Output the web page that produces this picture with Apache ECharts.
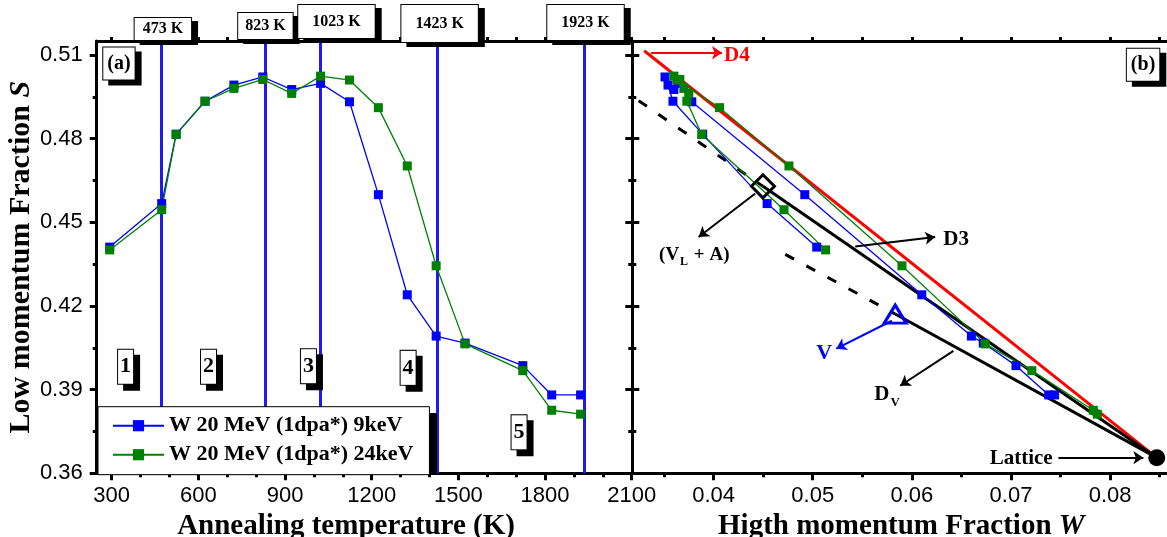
<!DOCTYPE html>
<html><head><meta charset="utf-8">
<script src="https://cdn.jsdelivr.net/npm/echarts@6/dist/echarts.min.js"></script>
<style>html,body{margin:0;padding:0;background:#fff}#c{width:1167px;height:537px}</style>
</head><body><div id="c"></div>
<script>
// ---------- data ----------
const temps  = [293,473,523,623,723,823,923,1023,1123,1223,1323,1423,1523,1723,1823,1923];
const sBlue  = [0.4411,0.4567,0.4816,0.4934,0.4992,0.5021,0.4976,0.4998,0.4932,0.4599,0.4240,0.4092,0.4067,0.3986,0.3881,0.3881];
const sGreen = [0.4401,0.4545,0.4815,0.4934,0.4980,0.5012,0.4962,0.5024,0.5010,0.4911,0.4702,0.4344,0.4064,0.3968,0.3826,0.3812];
const wBlue  = [0.0504,0.0454,0.0389,0.0359,0.0354,0.0351,0.0360,0.0364,0.0378,0.0492,0.0610,0.0660,0.0672,0.0705,0.0738,0.0744];
const wGreen = [0.0513,0.0471,0.0388,0.0373,0.0370,0.0366,0.0375,0.0360,0.0363,0.0406,0.0476,0.0590,0.0674,0.0721,0.0783,0.0787];
const seriesNames = ['W 20 MeV (1dpa*) 9keV','W 20 MeV (1dpa*) 24keV'];

const tempMajor = [300,600,900,1200,1500,1800,2100];
const tempMinor = [400,500,700,800,1000,1100,1300,1400,1600,1700,1900,2000];
const sMajor = [0.36,0.39,0.42,0.45,0.48,0.51];
const sMinor = [0.375,0.405,0.435,0.465,0.495];
const wMajor = [0.04,0.05,0.06,0.07,0.08];
const wMinor = [0.035,0.045,0.055,0.065,0.075,0.085];

const stageLines = [473,832,1022,1426,1935];
const stageNames = ['473 K','823 K','1023 K','1423 K','1923 K'];
const stagePos = [[477,0.5193],[832,0.5204],[1078,0.5220],[1435,0.5213],[1940,0.5216]];
const regionNames = ['1','2','3','4','5'];
const regionPos = [[348,0.3982],[635,0.3982],[981,0.3984],[1326,0.3978],[1710,0.3747]];

const lattice = [0.0847,0.3656];
const vlaPoint = [0.04498,0.4629];
const vPoint = [0.05832,0.4171];
const d4Start = [0.0330,0.5115];
const d3DashStart = [0.03244,0.4936];
const dvDashStart = [0.04723,0.4385];

const arrowD4 = [[0.03369,0.5108],[0.04085,0.5108]];
const arrowVLA = [[0.0442,0.4603],[0.03849,0.4447]];
const arrowD3 = [[0.05428,0.4413],[0.06235,0.4447]];
const arrowV = [[0.05798,0.4147],[0.05237,0.4047]];
const arrowDV = [[0.06419,0.4039],[0.05882,0.3914]];
const arrowLat = [[0.07478,0.3656],[0.08335,0.3656]];

const textD4 = [0.04234,0.5098], textVLA = [0.03805,0.4384], textD3 = [0.06447,0.4437];
const textV = [0.05116,0.4032], textDV = [0.0575,0.3881], textLat = [0.07102,0.3651];
const panelA = [325,0.5069], panelB = [0.08332,0.5065];

// ---------- helpers ----------
const SERIF = 'Liberation Serif', SANS = 'Liberation Sans';
const BLUE = '#0000ff', GREEN = '#008000', LBLUE = '#1c1cf0';
const zip = (a,b) => a.map((v,i)=>[v,b[i]]);

function xAx(grid, pos, min, max, ticks, len, opts) {
  return Object.assign({
    type:'value', gridIndex:grid, position:pos, min:min, max:max,
    splitLine:{show:false},
    axisLine:{show:true, onZero:false, lineStyle:{color:'#000', width:3}},
    axisTick:{show:true, inside:false, length:len, customValues:ticks, lineStyle:{color:'#000', width:3}},
    axisLabel:{show:false}
  }, opts||{});
}
function yAx(grid, pos, ticks, len, opts) {
  return Object.assign({
    type:'value', gridIndex:grid, position:pos, min:0.36, max:0.515,
    splitLine:{show:false},
    axisLine:{show:true, onZero:false, lineStyle:{color:'#000', width:3}},
    axisTick:{show:true, inside:false, length:len, customValues:ticks, lineStyle:{color:'#000', width:3}},
    axisLabel:{show:false}
  }, opts||{});
}
const nameStyle = (size, pad) => ({
  fontFamily:SERIF, fontWeight:'bold', fontSize:size, color:'#000', padding:pad,
  rich:{i:{fontFamily:SERIF, fontWeight:'bold', fontStyle:'italic', fontSize:size, color:'#000'}}
});
const tickLabel = (vals, fmt) => ({show:true, customValues:vals, fontFamily:SANS, fontSize:22, color:'#000', margin:12, formatter:fmt});

// boxed annotation: two layers (hard black shadow + white box with text)
function boxSeries(xi, yi, items, size, sx, sy) {
  const mk = (isShadow) => ({
    type:'scatter', xAxisIndex:xi, yAxisIndex:yi, clip:false, silent:true, symbol:'rect', symbolSize:1,
    itemStyle:{color:'#fff', opacity:1}, z:isShadow?6:7,
    data:items.map(it=>({name:it.name, value:it.value, label:{padding:it.pad}})),
    label:{show:true, position:'inside', formatter:'{b}', fontFamily:SERIF, fontWeight:'bold', fontSize:size,
      lineHeight:size, color:'#000', opacity:1, backgroundColor:isShadow?'#000':'#fff',
      borderColor:'#000', borderWidth:1, offset:isShadow?[sx,sy]:[0,0], textBorderWidth:0}
  });
  return [mk(true), mk(false)];
}
const stagePad = [[3,8,3,8],[5,7,5,7],[8,14,9,14],[10,14,11,14],[9,14,10,14]];
const stageItems = stageNames.map((n,i)=>({name:n, value:stagePos[i], pad:stagePad[i]}));
const regionItems = regionNames.map((n,i)=>({name:n, value:regionPos[i], pad:[6,2,6,2]}));

function arrow(seg, color) {
  return [{coord:seg[0], lineStyle:{color:color, width:2, type:'solid'}}, {coord:seg[1]}];
}
function textItem(pos, fmt, color, size) {
  return {value:pos, label:{formatter:fmt, color:color, fontSize:size}};
}

const option = {
  animation:false,
  backgroundColor:'#fff',
  grid:[
    {left:96.7, top:41, width:535.6, height:432.3, outerBoundsMode:'none', containLabel:false},
    {left:632.3, top:41, width:577, height:432.3, outerBoundsMode:'none', containLabel:false}
  ],
  legend:{
    data:seriesNames, left:98, top:406.7, orient:'vertical', z:4,
    backgroundColor:'#fff', borderColor:'#000', borderWidth:1, borderRadius:0,
    padding:[8,16,9,14], itemGap:7, itemWidth:51, itemHeight:14,
    textStyle:{fontFamily:SERIF, fontWeight:'bold', fontSize:22, color:'#000'}
  },
  graphic:[
    {type:'rect', z:3.5, silent:true, shape:{x:103, y:413, width:334, height:60}, style:{fill:'#000'}}
  ],
  xAxis:[
    xAx(0,'bottom',248,2102,tempMajor,7,{
      axisLabel:tickLabel(tempMajor, v=>String(Math.round(v))),
      name:'Annealing temperature (K)', nameLocation:'middle', nameGap:36, nameTextStyle:nameStyle(29,[0,37,0,0])
    }),
    xAx(0,'bottom',248,2102,tempMinor,4,{axisLine:{show:false}}),
    xAx(0,'top',248,2102,tempMajor.concat(tempMinor),4),
    xAx(1,'bottom',0.0318,0.09,wMajor,7,{
      axisLabel:tickLabel(wMajor, v=>v.toFixed(2)),
      name:'Higth momentum Fraction {i|W}', nameLocation:'middle', nameGap:36, nameTextStyle:nameStyle(29,[0,39,0,0])
    }),
    xAx(1,'bottom',0.0318,0.09,wMinor,4,{axisLine:{show:false}}),
    xAx(1,'top',0.0318,0.09,wMajor.concat(wMinor),4)
  ],
  yAxis:[
    yAx(0,'left',sMajor,7,{
      axisLabel:Object.assign(tickLabel(sMajor, v=>v.toFixed(2)),{margin:14}),
      name:'Low momentum Fraction {i|S}', nameLocation:'middle', nameRotate:90, nameGap:57, nameTextStyle:nameStyle(30,[0,0,0,0])
    }),
    yAx(0,'left',sMinor,4,{axisLine:{show:false}}),
    yAx(0,'right',sMajor,7),
    yAx(0,'right',sMinor,4,{axisLine:{show:false}}),
    yAx(1,'left',sMajor,7),
    yAx(1,'left',sMinor,4,{axisLine:{show:false}})
  ],
  series:[
    // ---- panel (a) ----
    {type:'line', name:seriesNames[0], xAxisIndex:0, yAxisIndex:0, data:zip(temps,sBlue),
     symbol:'rect', symbolSize:9, color:BLUE, lineStyle:{width:1.3, color:BLUE}, itemStyle:{color:BLUE}, z:3,
     markLine:{silent:true, z:2, symbol:['none','none'], label:{show:false}, lineStyle:{color:LBLUE, width:3, type:'solid'},
       data:stageLines.map(v=>({xAxis:v}))}},
    {type:'line', name:seriesNames[1], xAxisIndex:0, yAxisIndex:0, data:zip(temps,sGreen),
     symbol:'rect', symbolSize:9, color:GREEN, lineStyle:{width:1.3, color:GREEN}, itemStyle:{color:GREEN}, z:3},
    ...boxSeries(0,0,stageItems,16,6,4),
    ...boxSeries(0,0,regionItems,22,6,6),
    ...boxSeries(0,0,[{name:'(a)', value:panelA, pad:[6,4,6,4]}],20,6,5),
    // ---- panel (b) ----
    {type:'line', name:'D4', xAxisIndex:3, yAxisIndex:4, data:[d4Start,lattice], symbol:'none',
     lineStyle:{color:'#ff0000', width:3}, z:2,
     markLine:{silent:true, z:4, symbol:['none','arrow'], symbolSize:10, label:{show:false},
       data:[arrow(arrowD4,'#ff0000'), arrow(arrowVLA,'#000'), arrow(arrowD3,'#000'),
             arrow(arrowV,'#0000ff'), arrow(arrowDV,'#000'), arrow(arrowLat,'#000')]}},
    {type:'line', name:'D3', xAxisIndex:3, yAxisIndex:4, data:[vlaPoint,lattice], symbol:'none',
     lineStyle:{color:'#000', width:3}, z:2},
    {type:'line', name:'D3ext', xAxisIndex:3, yAxisIndex:4, data:[d3DashStart,vlaPoint], symbol:'none',
     lineStyle:{color:'#000', width:3, type:[10,14]}, z:2},
    {type:'line', name:'DV', xAxisIndex:3, yAxisIndex:4, data:[vPoint,lattice], symbol:'none',
     lineStyle:{color:'#000', width:3}, z:2},
    {type:'line', name:'DVext', xAxisIndex:3, yAxisIndex:4, data:[dvDashStart,vPoint], symbol:'none',
     lineStyle:{color:'#000', width:3, type:[10,14]}, z:2},
    {type:'line', name:seriesNames[0], xAxisIndex:3, yAxisIndex:4, data:zip(wBlue,sBlue),
     symbol:'rect', symbolSize:9, color:BLUE, lineStyle:{width:1.3, color:BLUE}, itemStyle:{color:BLUE}, z:3},
    {type:'line', name:seriesNames[1], xAxisIndex:3, yAxisIndex:4, data:zip(wGreen,sGreen),
     symbol:'rect', symbolSize:9, color:GREEN, lineStyle:{width:1.3, color:GREEN}, itemStyle:{color:GREEN}, z:3},
    {type:'scatter', xAxisIndex:3, yAxisIndex:4, silent:true, z:5,
     data:[
       {value:lattice, symbol:'circle', symbolSize:17, itemStyle:{color:'#000', opacity:1}},
       {value:vlaPoint, symbol:'diamond', symbolSize:23, itemStyle:{color:'rgba(255,255,255,0)', borderColor:'#000', borderWidth:3, opacity:1}},
       {value:vPoint, symbol:'triangle', symbolSize:[22,18], itemStyle:{color:'rgba(255,255,255,0)', borderColor:'#0000ff', borderWidth:3, opacity:1}}
     ]},
    {type:'scatter', xAxisIndex:3, yAxisIndex:4, clip:false, silent:true, symbol:'rect', symbolSize:1,
     itemStyle:{color:'#fff', opacity:1}, z:6,
     label:{show:true, position:'inside', fontFamily:SERIF, fontWeight:'bold', fontSize:21, color:'#000', textBorderWidth:0,
       rich:{
         m:{fontFamily:SERIF, fontWeight:'bold', fontSize:19, color:'#000'},
         s:{fontFamily:SERIF, fontWeight:'bold', fontSize:12, color:'#000', padding:[14,1,0,1]},
         d:{fontFamily:SERIF, fontWeight:'bold', fontSize:21, color:'#000'},
         t:{fontFamily:SERIF, fontWeight:'bold', fontSize:13, color:'#000', padding:[16,0,0,1]}
       }},
     data:[
       textItem(textD4,'D4','#ff0000',21),
       textItem(textVLA,'{m|(V}{s|L}{m| + A)}','#000',19),
       textItem(textD3,'D3','#000',21),
       textItem(textV,'V','#0000ff',22),
       textItem(textDV,'{d|D}{t|V}','#000',21),
       textItem(textLat,'Lattice','#000',21)
     ]},
    ...boxSeries(3,4,[{name:'(b)', value:panelB, pad:[6,4,6,4]}],20,6,5)
  ]
};
const chart = echarts.init(document.getElementById('c'), null, {renderer:'canvas'});
chart.setOption(option);
</script></body></html>
